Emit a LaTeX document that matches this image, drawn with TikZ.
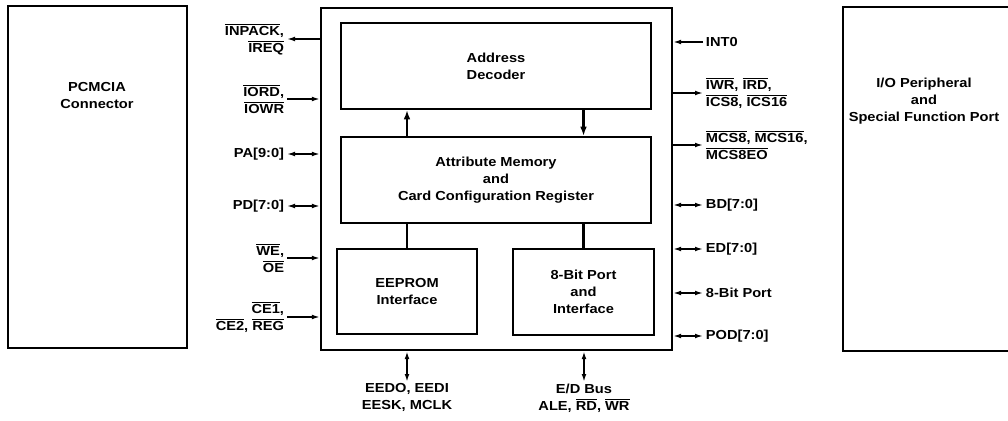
\documentclass[tikz,border=0pt]{standalone}
\usepackage{fontspec}
\setmainfont{Liberation Sans}[FakeStretch=1.12]
\usetikzlibrary{arrows.meta,positioning}
\newcommand{\ovl}[1]{$\overline{\mbox{#1}}$}

\begin{document}
\begin{tikzpicture}[x=0.75pt,y=-0.75pt,
  blk/.style={draw,line width=1.4pt,inner sep=0pt},
  ttl/.style={font=\fontsize{9.8}{12.75}\selectfont\bfseries,align=center},
  sigl/.style={font=\fontsize{9.8}{12.75}\selectfont\bfseries,align=right,anchor=east,inner sep=2pt},
  sigr/.style={font=\fontsize{9.8}{12.75}\selectfont\bfseries,align=left,anchor=west,inner sep=2pt},
  a/.style={-{Latex[length=6pt,width=3.6pt]},line width=1.1pt},
  aa/.style={{Latex[length=6pt,width=3.6pt]}-{Latex[length=6pt,width=3.6pt]},line width=1.1pt},
  link/.style={line width=1.9pt},
  up/.style={-{Latex[length=7pt,width=5pt]},line width=1.9pt}]
\useasboundingbox (0,0) rectangle (1008,421);
% outer blocks
\node[blk,minimum width=134.25pt,minimum height=256.5pt] (pcmcia) at (97.5,177) {};
\node[ttl] (pcmciat) at (97,96) {PCMCIA\\Connector};
\node[blk,minimum width=127.5pt,minimum height=258pt] (iop) at (928,179) {};
\node[ttl] (iopt) at (924,101) {I/O Peripheral\\and\\Special Function Port};
% chip and its blocks
\node[blk,line width=1.7pt,minimum width=263.25pt,minimum height=256.5pt] (chip) at (496.5,179) {};
\node[blk,ttl,minimum width=232.5pt,minimum height=64.5pt] (addr) at (496,66) {Address\\Decoder};
\node[blk,ttl,minimum width=232.5pt,minimum height=64.5pt] (attr) at (496,180) {Attribute Memory\\and\\Card Configuration Register};
\node[blk,ttl,minimum width=105pt,minimum height=63.75pt] (eeprom) at (407,291.5) {EEPROM\\Interface};
\node[blk,ttl,minimum width=105.75pt,minimum height=64.5pt] (port) at (583.5,292) {8-Bit Port\\and\\Interface};
\draw[up] (eeprom |- attr.north) -- (eeprom |- addr.south);
\draw[up] (port |- addr.south) -- (port |- attr.north);
\draw[link] (eeprom |- attr.south) -- (eeprom.north);
\draw[link] (port |- attr.south) -- (port.north);
% left side signals
\coordinate (inpack) at (287,39);
\coordinate (iord) at (287,99);
\coordinate (pa) at (287,154);
\coordinate (pd) at (287,206);
\coordinate (we) at (287,258);
\coordinate (ce) at (287,317);
\draw[a] (inpack -| chip.west) -- (inpack);
\draw[a] (iord) -- (iord -| chip.west);
\draw[aa] (pa) -- (pa -| chip.west);
\draw[aa] (pd) -- (pd -| chip.west);
\draw[a] (we) -- (we -| chip.west);
\draw[a] (ce) -- (ce -| chip.west);
\node[sigl] (inpackl) at (inpack) {\ovl{INPACK},\\\ovl{IREQ}};
\node[sigl] (iordl) at (iord) {\ovl{IORD},\\\ovl{IOWR}};
\node[sigl] (pal) at (pa) {PA[9:0]};
\node[sigl] (pdl) at (pd) {PD[7:0]};
\node[sigl] (wel) at (we) {\ovl{WE},\\\ovl{OE}};
\node[sigl] (cel) at (ce) {\ovl{CE1},\\\ovl{CE2}, \ovl{REG}};
% right side signals
\coordinate (int) at (703,42);
\coordinate (iwr) at (703,93);
\coordinate (mcs) at (703,145);
\coordinate (bd) at (703,205);
\coordinate (ed) at (703,249);
\coordinate (bit) at (703,293);
\coordinate (pod) at (703,336);
\draw[a] (int) -- (int -| chip.east);
\draw[a] (iwr -| chip.east) -- (iwr);
\draw[a] (mcs -| chip.east) -- (mcs);
\draw[aa] (bd -| chip.east) -- (bd);
\draw[aa] (ed -| chip.east) -- (ed);
\draw[aa] (bit -| chip.east) -- (bit);
\draw[aa] (pod -| chip.east) -- (pod);
\node[sigr] (intl) at (int) {INT0};
\node[sigr] (iwrl) at (iwr) {\ovl{IWR}, \ovl{IRD},\\\ovl{ICS8}, \ovl{ICS16}};
\node[sigr] (mcsl) at (mcs) {\ovl{MCS8}, \ovl{MCS16},\\\ovl{MCS8EO}};
\node[sigr] (bdl) at (bd) {BD[7:0]};
\node[sigr] (edl) at (ed) {ED[7:0]};
\node[sigr] (bitl) at (bit) {8-Bit Port};
\node[sigr] (podl) at (pod) {POD[7:0]};
% bottom buses
\coordinate (eebus) at (407,382);
\coordinate (edbus) at (584,382);
\draw[aa,line width=1.6pt] (eebus |- chip.south) -- (eebus);
\draw[aa,line width=1.6pt] (edbus |- chip.south) -- (edbus);
\node[ttl,anchor=north,inner sep=1pt] (eebusl) at (eebus) {EEDO, EEDI\\EESK, MCLK};
\node[ttl,anchor=north,inner sep=1pt] (edbusl) at (edbus) {E/D Bus\\ALE, \ovl{RD}, \ovl{WR}};
\end{tikzpicture}
\end{document}
